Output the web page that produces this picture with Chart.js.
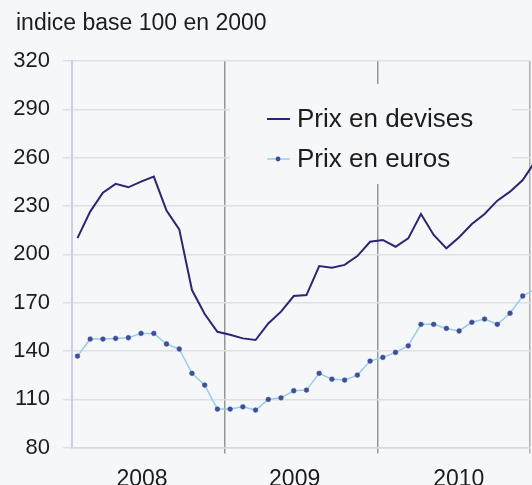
<!DOCTYPE html>
<html>
<head>
<meta charset="utf-8">
<script src="https://cdn.jsdelivr.net/npm/chart.js@4"></script>
<style>
  html, body { margin: 0; padding: 0; background: #f6f7f9; overflow: hidden; }
  #wrap { width: 532px; height: 485px; }
</style>
</head>
<body>
<div id="wrap"><canvas id="myChart"></canvas></div>
<script>
// monthly values, Jan 2008 .. Jan 2011
const devises = [210, 226.5, 238.3, 243.7, 241.6, 245.1, 248.2, 227.1, 215.5, 177.8, 162.9, 151.9,
  150, 147.8, 146.8, 157.1, 164.4, 174.1, 174.7, 192.7, 191.7, 193.4, 198.9, 207.8,
  208.9, 204.7, 209.9, 225, 212, 203.7, 210.6, 218.8, 225, 233.3, 238.9, 246.1, 258];
const euros = [136.8, 147.4, 147.4, 147.8, 148.2, 150.9, 150.9, 144.3, 141.2, 126.1, 118.8, 103.9,
  103.9, 105.3, 103.3, 109.9, 110.9, 115.3, 115.7, 126.1, 122.5, 121.9, 125, 133.7,
  136, 139.1, 143.2, 156.5, 156.5, 154, 152.4, 157.8, 159.8, 156.5, 163.4, 174.1, 178.4];
const years = ["2008", "2009", "2010"];
const yearLabelPos = [5.5, 17.5, 30.4];
const yearBounds = [0, 12, 24, 36];

const bg = "#f6f7f9";
const toPoints = (arr) => arr.map((v, i) => ({ x: i + 0.43, y: v }));

// title + legend drawn by hand (legend sits inside the plot)
const decor = {
  id: "decor",
  beforeDatasetsDraw(chart) {
    const ctx = chart.ctx;
    ctx.save();
    ctx.fillStyle = bg;
    ctx.fillRect(230, 84, 282, 100);
    ctx.restore();
  },
  afterDatasetsDraw(chart) {
    const ctx = chart.ctx;
    ctx.save();
    ctx.fillStyle = "#1c1c1c";
    ctx.font = '23px "Liberation Sans", Arial, sans-serif';
    ctx.textBaseline = "alphabetic";
    ctx.fillText("indice base 100 en 2000", 16, 30);

    const rows = [119, 159];
    chart.data.datasets.forEach((ds, i) => {
      const y = rows[i];
      ctx.strokeStyle = ds.borderColor;
      ctx.lineWidth = ds.borderWidth;
      ctx.beginPath();
      ctx.moveTo(267, y);
      ctx.lineTo(290, y);
      ctx.stroke();
      if (ds.pointRadius > 0) {
        ctx.fillStyle = ds.pointBackgroundColor;
        ctx.beginPath();
        ctx.arc(278, y, ds.pointRadius, 0, Math.PI * 2);
        ctx.fill();
      }
      ctx.fillStyle = "#1c1c1c";
      ctx.font = '26px "Liberation Sans", Arial, sans-serif';
      ctx.textBaseline = "middle";
      ctx.fillText(ds.label, 297, y + 1);
    });
    ctx.restore();
  }
};

const config = {
  type: "line",
  data: {
    datasets: [
      {
        label: "Prix en devises",
        data: toPoints(devises),
        borderColor: "rgb(42, 38, 115)",
        borderWidth: 2,
        pointRadius: 0,
        tension: 0,
        clip: { left: 5, top: 5, right: 2, bottom: 5 },
      },
      {
        label: "Prix en euros",
        data: toPoints(euros),
        borderColor: "rgb(150, 205, 236)",
        borderWidth: 1.5,
        pointRadius: 2.4,
        pointBackgroundColor: "rgb(62, 78, 152)",
        pointBorderColor: "rgba(62, 78, 152, 0.5)",
        pointBorderWidth: 1,
        tension: 0,
        clip: { left: 5, top: 5, right: 2, bottom: 5 },
      },
    ],
  },
  options: {
    responsive: true,
    maintainAspectRatio: false,
    animation: false,
    layout: { autoPadding: false, padding: { top: 61, right: 2, left: 0, bottom: 0 } },
    plugins: { legend: { display: false }, tooltip: { enabled: false } },
    scales: {
      x: {
        type: "linear",
        min: 0,
        max: 36,
        afterFit: (scale) => {
          scale.height = 37.4;
          scale.paddingLeft = 0;
          scale.paddingRight = 0;
        },
        afterBuildTicks: (scale) => {
          scale.ticks = yearBounds.concat(yearLabelPos).sort((a, b) => a - b).map((v) => ({ value: v }));
        },
        grid: {
          tickLength: 6,
          lineWidth: 1.5,
          color: (ctx) => {
            const v = ctx.tick && ctx.tick.value;
            if (v === 12 || v === 24) return "#969696";
            if (v === 36) return "#b0b0b0";
            return "rgba(0,0,0,0)";
          },
        },
        border: { color: "#d6d7dc", width: 1.5 },
        ticks: {
          autoSkip: false,
          maxRotation: 0,
          padding: 12,
          color: "#1c1c1c",
          font: { size: 23 },
          callback: (value) => {
            const i = yearLabelPos.indexOf(value);
            return i >= 0 ? years[i] : "";
          },
        },
      },
      y: {
        min: 80,
        max: 320,
        afterFit: (scale) => { scale.width = 72; },
        grid: { color: "#dfe0e4", lineWidth: 1.5, tickLength: 9 },
        border: { color: "#cbcde0", width: 2 },
        ticks: {
          stepSize: 30,
          padding: 13,
          color: "#1c1c1c",
          font: { size: 22 },
        },
      },
    },
  },
  plugins: [decor],
};

Chart.defaults.font.family = '"Liberation Sans", Arial, sans-serif';
let myChart = new Chart(document.getElementById("myChart"), config);
</script>
</body>
</html>
